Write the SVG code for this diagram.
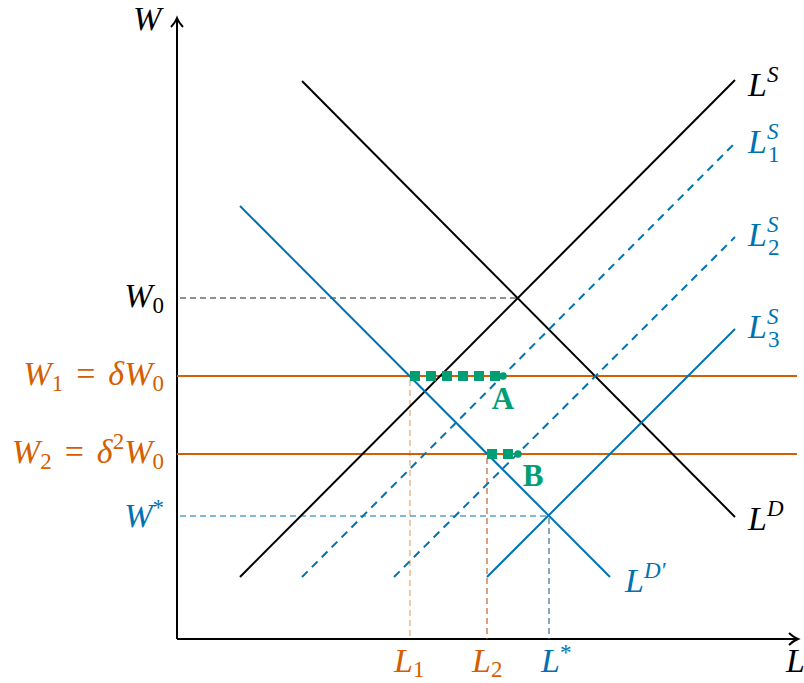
<svg xmlns="http://www.w3.org/2000/svg" width="804" height="683" viewBox="0 0 804 683">
<style>
text{font-family:"Liberation Serif","Times New Roman",serif;font-style:italic;font-size:34px}
.sub{font-size:23px;font-style:normal}
.sup{font-size:23px}
.op{font-style:normal}
.blk{fill:#000}
.org{fill:#d55e00}
.blu{fill:#0072b2}
.grn{fill:#009e73;font-style:normal;font-weight:bold;font-size:31px}
.ax{stroke:#000;stroke-width:2;fill:none}
.curve{stroke-width:2;fill:none}
.dash{stroke-width:2;stroke-dasharray:8 6;fill:none}
.thin{stroke-width:1.1;stroke-dasharray:6 4;fill:none}
.sq{stroke:#009e73;stroke-width:10;stroke-dasharray:10 6;fill:none}
</style>
<rect width="804" height="683" fill="#fff"/>
<g id="axes">
<path class="ax" d="M177,639 V19 M177,639 H797"/>
<path class="ax" stroke-width="1.6" d="M171,27 Q175,23 177,18 Q179,23 183,27"/>
<path class="ax" stroke-width="1.6" d="M789,633 Q793,637 798,639 Q793,641 789,645"/>
<text class="blk" x="133" y="30">W</text>
<text class="blk" x="786" y="672">L</text>
</g>
<g id="guides">
<path class="thin" stroke="#222" d="M180,298 H519"/>
<path class="curve" stroke="#d55e00" d="M177,376 H797"/>
<path class="curve" stroke="#d55e00" d="M177,454 H797"/>
<path class="thin" stroke="#0072b2" d="M180,516 H549"/>
<path class="thin" stroke="#d55e00" stroke-opacity="0.6" d="M410,380 V639"/>
<path class="thin" stroke="#b35a1f" d="M487,458 V639"/>
<path class="thin" stroke="#2f5f85" d="M549,518 V639"/>
</g>
<g id="curves">
<path class="curve" stroke="#000" d="M240,577 L735,80"/>
<path class="curve" stroke="#000" d="M302,81 L735,517"/>
<path class="dash" stroke="#0072b2" d="M302,577 L735,143"/>
<path class="dash" stroke="#0072b2" d="M394,577 L735,237"/>
<path class="curve" stroke="#0072b2" d="M487,577 L735,329"/>
<path class="curve" stroke="#0072b2" d="M240,206 L610,577"/>
</g>
<g id="pointA">
<path class="sq" d="M410,376 H500"/>
<circle cx="503" cy="376" r="3.8" fill="#009e73"/>
<text class="grn" x="503" y="409" text-anchor="middle">A</text>
</g>
<g id="pointB">
<path class="sq" d="M487,454 H513"/>
<circle cx="518" cy="454" r="3.8" fill="#009e73"/>
<text class="grn" x="533" y="486" text-anchor="middle">B</text>
</g>
<g id="ylabels">
<text class="blk" x="164" y="307" text-anchor="end">W<tspan class="sub" dy="6">0</tspan></text>
<text class="org" x="164" y="385" text-anchor="end">W<tspan class="sub" dy="6">1</tspan><tspan class="op" dx="13" dy="-6">=</tspan><tspan dx="13">δW</tspan><tspan class="sub" dy="6">0</tspan></text>
<text class="org" x="164" y="463" text-anchor="end">W<tspan class="sub" dy="6">2</tspan><tspan class="op" dx="13" dy="-6">=</tspan><tspan dx="13">δ</tspan><tspan class="sub" dy="-14">2</tspan><tspan dy="14">W</tspan><tspan class="sub" dy="6">0</tspan></text>
<text class="blu" x="164" y="527" text-anchor="end">W<tspan class="sub" dy="-12">*</tspan></text>
</g>
<g id="xlabels">
<text class="org" x="394" y="672">L<tspan class="sub" dy="5">1</tspan></text>
<text class="org" x="472" y="672">L<tspan class="sub" dy="5">2</tspan></text>
<text class="blu" x="541" y="672">L<tspan class="sub" dy="-12">*</tspan></text>
</g>
<g id="curvelabels">
<text class="blk" x="748" y="96">L<tspan class="sup" dy="-14">S</tspan></text>
<text class="blu" x="748" y="153">L<tspan class="sup" dy="-14">S</tspan><tspan class="sub" x="768" dy="23">1</tspan></text>
<text class="blu" x="748" y="246">L<tspan class="sup" dy="-14">S</tspan><tspan class="sub" x="768" dy="23">2</tspan></text>
<text class="blu" x="748" y="338">L<tspan class="sup" dy="-14">S</tspan><tspan class="sub" x="768" dy="23">3</tspan></text>
<text class="blk" x="748" y="530">L<tspan class="sup" dy="-14">D</tspan></text>
<text class="blu" x="625" y="592">L<tspan class="sup" dy="-14">D′</tspan></text>
</g>
</svg>
